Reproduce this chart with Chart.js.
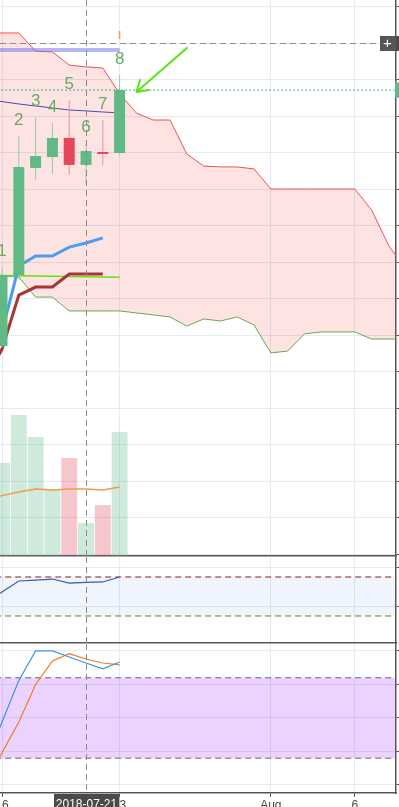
<!DOCTYPE html>
<html>
<head>
<meta charset="utf-8">
<script src="https://cdn.jsdelivr.net/npm/chart.js@4.4.1/dist/chart.umd.min.js"></script>
<style>
  html, body { margin: 0; padding: 0; background: #fff; overflow: hidden; }
  #wrap { position: relative; width: 399px; height: 807px; }
  canvas { position: absolute; left: 0; display: block; }
  #c1 { top: 0; }
  #c2 { top: 557px; }
  #c3 { top: 644px; }
</style>
</head>
<body>
<div id="wrap">
  <canvas id="c1" width="399" height="557"></canvas>
  <canvas id="c2" width="399" height="87"></canvas>
  <canvas id="c3" width="399" height="163"></canvas>
</div>
<script>
// ---------- daily BTC candles, day 0 = 2018-07-16 ----------
const days         = [0, 1, 2, 3, 4, 5, 6, 7];
const candleLabels = ['1', '2', '3', '4', '5', '6', '7', '8'];
const opens   = [6340, 6729, 7315, 7375, 7480, 7332, 7403, 7397];
const highs   = [6770, 7490, 7595, 7562, 7688, 7452, 7578, 7825];
const lows    = [6330, 6700, 7249, 7282, 7277, 7222, 7332, 7381];
const closes  = [6729, 7321, 7381, 7480, 7332, 7408, 7392, 7742];
const volumes = [6690, 10140, 8560, 4750, 7050, 2370, 3670, 8920];

// indicator lines (start one day before the first visible candle)
const lineDays = [-1, 0, 1, 2, 3, 4, 5, 6, 7];
const volumeMA = [4100, 4345, 4604, 4820, 4748, 4820, 4820, 4748, 4964];
const slowMA   = [7693, 7679, 7666, 7655, 7644, 7633, 7628, 7622, 7617];
const rsi      = [43, 54.6, 65.9, 66.8, 67.9, 63.8, 64.4, 64.9, 70];
const stochK   = [15, 47, 78, 100, 100, 95.5, 91, 86.6, 91.8];
const stochD   = [2, 24, 47, 75, 92.5, 98, 94, 91, 89.6];

// Ichimoku
const ichiDays   = [-1, 0, 1, 2, 3, 4, 5, 6];
const conversion = [6345, 6417, 6778, 6833, 6833, 6882, 6904, 6932];
const baseLine   = [6154, 6323, 6619, 6663, 6663, 6734, 6734, 6734];
const cloudDays  = [-1, 0, 1, 2, 3, 4, 5, 6, 7, 8, 9, 10, 11, 12, 13, 14, 15, 16, 17, 18, 19, 20, 21, 22, 23, 24];
const leadLine2  = [8055, 8055, 8055, 7956, 7951, 7879, 7869, 7863, 7722, 7616, 7578, 7578, 7392,
                    7326, 7321, 7321, 7310, 7200, 7200, 7200, 7200, 7200, 7200, 7085, 6893, 6762];
const leadLine1  = [6723, 6723, 6718, 6608, 6608, 6532, 6532, 6532, 6532, 6521, 6510, 6499, 6449,
                    6488, 6477, 6499, 6455, 6302, 6312, 6406, 6417, 6417, 6417, 6378, 6378, 6378];

// drawn levels and annotations
const levelDays   = [-1, 7];
const levelPrices = [7962, 7962];
const supportDays   = [-1, 7];
const supportPrices = [6728, 6716];
const crosshair = { day: 5, price: 8000, label: '2018-07-21' };
const arrow = { fromDay: 11, fromPrice: 7973, toDay: 8, toPrice: 7732 };
const marker = { day: 7, price: 8038, text: 'I' };

// axes
const dayTicks      = [0, 7, 16, 21];
const dayTickLabels = ['16', '23', 'Aug', '6'];
const priceTicks = [5200, 5400, 5600, 5800, 6000, 6200, 6400, 6600, 6800, 7000, 7200, 7400, 7600, 7800, 8000, 8200];
const rsiTicks   = [40, 80];
const rsiBands   = [70, 30];
const stochTicks = [0, 25, 50, 75, 100];
const stochBands = [80, 20];
const bandDays   = [-1, 25];

// ---------- styling ----------
const FONT = "'Liberation Sans', Arial, sans-serif";
const GRID = '#e3ebf3';
const AXIS = '#555555';
const UP = '#61b985', DOWN = '#e4475c';
const UP_WICK = '#93cfab', DOWN_WICK = '#ee8e9a';
const X_MIN = -0.12, X_MAX = 23.45;

Chart.defaults.font.family = FONT;
Chart.defaults.animation = false;
Chart.defaults.events = [];
Chart.defaults.plugins.legend.display = false;
Chart.defaults.plugins.tooltip.enabled = false;
Chart.defaults.elements.point.radius = 0;
Chart.defaults.elements.line.tension = 0;

const pts = (xs, ys) => xs.map((x, i) => ({ x, y: ys[i] }));
const flat = (xs, v) => xs.map(x => ({ x, y: v }));
const isUp = i => closes[i] >= opens[i];

function xAxis(showLabels) {
  return {
    type: 'linear', min: X_MIN, max: X_MAX, offset: false,
    afterBuildTicks: s => { s.ticks = dayTicks.map(v => ({ value: v })); },
    afterFit: s => { s.height = showLabels ? 14 : 1; s.paddingLeft = 0; s.paddingRight = 0; },
    grid: { color: GRID, drawTicks: showLabels, tickLength: 4, tickColor: AXIS, offset: false },
    border: { display: true, color: AXIS, width: 1.5 },
    ticks: {
      display: showLabels, autoSkip: false, maxRotation: 0, padding: 1,
      color: '#4a4a4a', font: { size: 12, family: FONT },
      callback: v => dayTickLabels[dayTicks.indexOf(v)]
    }
  };
}

function yAxis(min, max, ticks) {
  return {
    type: 'linear', position: 'right', min, max,
    afterBuildTicks: s => { s.ticks = ticks.map(v => ({ value: v })); },
    afterFit: s => { s.width = 3; s.paddingTop = 0; s.paddingBottom = 0; },
    grid: { color: GRID, drawTicks: true, tickLength: 3, tickColor: AXIS },
    border: { display: true, color: AXIS, width: 1.5 },
    ticks: { display: false }
  };
}

function drawCrosshairX(chart, bottom) {
  const { ctx, scales: { x } } = chart;
  const cx = Math.round(x.getPixelForValue(crosshair.day)) + 0.5;
  ctx.save();
  ctx.strokeStyle = '#8c8c8c';
  ctx.lineWidth = 1;
  ctx.setLineDash([6, 4]);
  ctx.beginPath();
  ctx.moveTo(cx, 0);
  ctx.lineTo(cx, bottom);
  ctx.stroke();
  ctx.restore();
  return cx;
}

// ---------- price pane overlays ----------
const priceOverlay = {
  id: 'priceOverlay',
  afterDatasetsDraw(chart) {
    const { ctx, chartArea: a, scales: { x, y } } = chart;
    drawCrosshairX(chart, a.bottom);

    ctx.save();
    // horizontal crosshair with its "+" button and axis tab
    const hy = Math.round(y.getPixelForValue(crosshair.price)) + 0.5;
    const boxR = a.right - 1, boxL = boxR - 15;
    ctx.strokeStyle = '#8c8c8c';
    ctx.lineWidth = 1;
    ctx.setLineDash([6, 4]);
    ctx.beginPath();
    ctx.moveTo(a.left, hy);
    ctx.lineTo(boxL, hy);
    ctx.stroke();
    ctx.setLineDash([]);
    ctx.fillStyle = '#555555';
    ctx.fillRect(boxL, hy - 7.5, 15, 15);
    ctx.fillStyle = '#4a4a4a';
    ctx.fillRect(a.right, hy - 7.5, chart.width - a.right, 15);
    ctx.fillStyle = '#ffffff';
    ctx.font = '15px ' + FONT;
    ctx.textAlign = 'center';
    ctx.textBaseline = 'middle';
    ctx.fillText('+', boxL + 7.5, hy + 0.5);

    // last price tab on the axis
    const ly = y.getPixelForValue(closes[closes.length - 1]);
    ctx.fillStyle = UP;
    ctx.fillRect(a.right - 1, ly - 7.5, chart.width - a.right + 1, 15);

    // candle numbers
    ctx.fillStyle = '#6aa864';
    ctx.font = '17px ' + FONT;
    days.forEach((d, i) => {
      ctx.fillText(candleLabels[i], x.getPixelForValue(d), y.getPixelForValue(highs[i]) - 16);
    });

    // orange event marker
    ctx.fillStyle = '#f4a048';
    ctx.font = 'bold 11px ' + FONT;
    ctx.fillText(marker.text, x.getPixelForValue(marker.day), y.getPixelForValue(marker.price));

    // green arrow
    const p0 = { x: x.getPixelForValue(arrow.fromDay), y: y.getPixelForValue(arrow.fromPrice) };
    const p1 = { x: x.getPixelForValue(arrow.toDay), y: y.getPixelForValue(arrow.toPrice) };
    const back = Math.atan2(p0.y - p1.y, p0.x - p1.x);
    ctx.strokeStyle = '#5ce311';
    ctx.lineWidth = 2;
    ctx.lineCap = 'round';
    ctx.beginPath();
    ctx.moveTo(p0.x, p0.y);
    ctx.lineTo(p1.x, p1.y);
    [-0.56, 0.56].forEach(d => {
      ctx.moveTo(p1.x, p1.y);
      ctx.lineTo(p1.x + 12.5 * Math.cos(back + d), p1.y + 12.5 * Math.sin(back + d));
    });
    ctx.stroke();
    ctx.restore();
  }
};

new Chart(document.getElementById('c1'), {
  type: 'line',
  data: {
    datasets: [
      { label: 'Lead 2', data: pts(cloudDays, leadLine2), borderColor: '#f25050', borderWidth: 1,
        fill: '+1', backgroundColor: 'rgba(244,67,54,0.14)', order: 20 },
      { label: 'Lead 1', data: pts(cloudDays, leadLine1), borderColor: '#6aa84f', borderWidth: 1,
        fill: false, order: 19 },
      { type: 'bar', label: 'Volume', yAxisID: 'yVol', data: pts(days, volumes),
        backgroundColor: days.map((d, i) => isUp(i) ? 'rgba(97,185,133,0.3)' : 'rgba(228,71,92,0.3)'),
        barPercentage: 0.95, categoryPercentage: 1, grouped: false, borderWidth: 0, inflateAmount: 0, order: 18 },
      { label: 'Volume MA', yAxisID: 'yVol', data: pts(lineDays, volumeMA), borderColor: '#f39a4c',
        borderWidth: 1.3, fill: false, order: 17 },
      { label: 'MA', data: pts(lineDays, slowMA), borderColor: '#4a4ab2', borderWidth: 1, fill: false, order: 16 },
      { label: 'Level', data: pts(levelDays, levelPrices), borderColor: 'rgba(110,110,235,0.5)',
        borderWidth: 4, borderCapStyle: 'butt', fill: false, order: 15 },
      { label: 'Support', data: pts(supportDays, supportPrices), borderColor: '#62e30f',
        borderWidth: 1.5, fill: false, order: 14 },
      { label: 'Base line', data: pts(ichiDays, baseLine), borderColor: '#a83434', borderWidth: 3, fill: false, order: 13 },
      { label: 'Conversion line', data: pts(ichiDays, conversion), borderColor: '#4b9df0', borderWidth: 3, fill: false, order: 12 },
      { type: 'bar', label: 'Wicks', data: days.map((d, i) => ({ x: d, y: [lows[i], highs[i]] })),
        backgroundColor: days.map((d, i) => isUp(i) ? UP_WICK : DOWN_WICK),
        barThickness: 1, grouped: false, borderWidth: 0, inflateAmount: 0, order: 11 },
      { type: 'bar', label: 'Bodies', data: days.map((d, i) => ({ x: d, y: [opens[i], closes[i]] })),
        backgroundColor: days.map((d, i) => isUp(i) ? UP : DOWN),
        barPercentage: 0.655, categoryPercentage: 1, grouped: false, borderWidth: 0, inflateAmount: 0, order: 10 },
      { label: 'Last price', data: flat(bandDays, closes[closes.length - 1]), borderColor: '#3cb371',
        borderWidth: 1, borderDash: [2, 2], fill: false, order: 1 }
    ]
  },
  options: {
    responsive: false, devicePixelRatio: 1,
    layout: { padding: 0 },
    scales: {
      x: xAxis(false),
      y: yAxis(5189.3, 8235.6, priceTicks),
      yVol: { type: 'linear', display: false, position: 'left', min: 0, max: 40000 }
    }
  },
  plugins: [priceOverlay]
});

// ---------- oscillator pane ----------
new Chart(document.getElementById('c2'), {
  type: 'line',
  data: {
    datasets: [
      { label: 'Upper band', data: flat(bandDays, rsiBands[0]), borderColor: '#8b1c1c', borderWidth: 1,
        borderDash: [6, 4], fill: '+1', backgroundColor: 'rgba(66,133,230,0.08)', order: 3 },
      { label: 'Lower band', data: flat(bandDays, rsiBands[1]), borderColor: '#4a8a1c', borderWidth: 1,
        borderDash: [6, 4], fill: false, order: 2 },
      { label: 'RSI', data: pts(lineDays, rsi), borderColor: '#3a5aa6', borderWidth: 1.2, fill: false, order: 1 }
    ]
  },
  options: {
    responsive: false, devicePixelRatio: 1,
    layout: { padding: 0 },
    scales: { x: xAxis(false), y: yAxis(2.3, 90.5, rsiTicks) }
  },
  plugins: [{ id: 'cross2', afterDatasetsDraw(chart) { drawCrosshairX(chart, chart.chartArea.bottom); } }]
});

// ---------- stochastic pane with date axis ----------
new Chart(document.getElementById('c3'), {
  type: 'line',
  data: {
    datasets: [
      { label: 'Upper band', data: flat(bandDays, stochBands[0]), borderColor: '#676072', borderWidth: 1,
        borderDash: [6, 4], fill: '+1', backgroundColor: 'rgba(153,21,255,0.19)', order: 4 },
      { label: 'Lower band', data: flat(bandDays, stochBands[1]), borderColor: '#676072', borderWidth: 1,
        borderDash: [6, 4], fill: false, order: 3 },
      { label: '%D', data: pts(lineDays, stochD), borderColor: '#f47a20', borderWidth: 1.2, fill: false, order: 2 },
      { label: '%K', data: pts(lineDays, stochK), borderColor: '#3796f2', borderWidth: 1.2, fill: false, order: 1 }
    ]
  },
  options: {
    responsive: false, devicePixelRatio: 1,
    layout: { padding: 0 },
    scales: { x: xAxis(true), y: yAxis(-6, 105.2, stochTicks) }
  },
  plugins: [{
    id: 'cross3',
    afterDraw(chart) {
      const { ctx, chartArea: a } = chart;
      const cx = drawCrosshairX(chart, a.bottom);
      ctx.save();
      ctx.font = '12px ' + FONT;
      const bw = ctx.measureText(crosshair.label).width + 4;
      ctx.fillStyle = '#4a4a4a';
      ctx.fillRect(Math.round(cx - bw / 2), a.bottom + 1, bw, chart.height - a.bottom);
      ctx.fillStyle = '#ffffff';
      ctx.textAlign = 'center';
      ctx.textBaseline = 'alphabetic';
      ctx.fillText(crosshair.label, cx, chart.height + 0.5);
      ctx.restore();
    }
  }]
});
</script>
</body>
</html>
